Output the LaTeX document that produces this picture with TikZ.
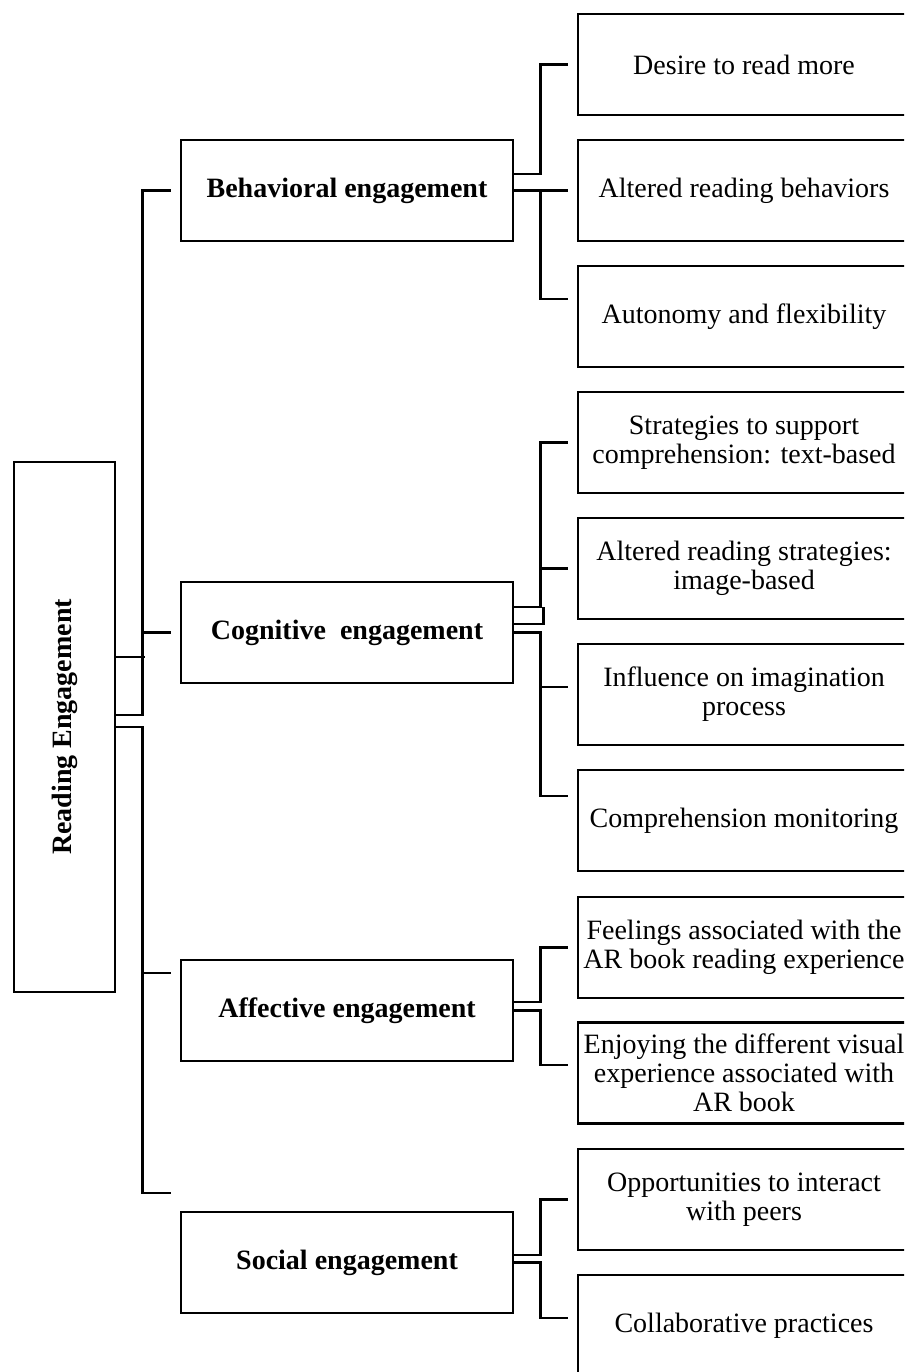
\documentclass[tikz,border=0pt]{standalone}
\usepackage{fontspec}
\setmainfont{Liberation Serif}
\usetikzlibrary{calc}

\tikzset{
	box/.style = {draw, line width=2.6pt, minimum width=332pt, minimum height=101pt,
		inner sep=0pt, align=center, font=\fontsize{28}{29}\selectfont},
	topic/.style = {box, font=\fontsize{28}{29}\selectfont\bfseries},
	bar/.style = {line width=2.6pt},
	link/.style = {bar, shorten >=9pt},
}

\begin{document}
\begin{tikzpicture}[x=1pt, y=-1pt]
	\useasboundingbox (0,0) rectangle (904,1372);
	\clip (0,0) rectangle (904,1372);

	% main box
	\node (read) [draw, line width=2.6pt, minimum width=101pt, minimum height=530pt, inner sep=0pt]
		at (64.5,727) {\rotatebox{90}{\fontsize{28}{29}\selectfont\bfseries Reading Engagement}};

	% the four kinds
	\node (beh) [topic] at (347,190.5) {Behavioral engagement};
	\node (cog) [topic] at (347,632.5) {Cognitive~ engagement};
	\node (aff) [topic] at (347,1010.5) {Affective engagement};
	\node (soc) [topic] at (347,1262.5) {Social engagement};

	% sub themes
	\node (b1) [box] at (744,64.5) {Desire to read more};
	\node (b2) [box] at (744,190.5) {Altered reading behaviors};
	\node (b3) [box] at (744,316.5) {Autonomy and flexibility};
	\node (c1) [box] at (744,442.5) {Strategies to support\\comprehension: text-based};
	\node (c2) [box] at (744,568.5) {Altered reading strategies:\\image-based};
	\node (c3) [box] at (744,694.5) {Influence on imagination\\process};
	\node (c4) [box] at (744,820.5) {Comprehension monitoring};
	\node (a1) [box] at (744,947.5) {Feelings associated with the\\AR book reading experience};
	\node (a2) [box] at (744,1073) {Enjoying the different visual\\experience associated with\\AR book};
	\node (s1) [box] at (744,1199.5) {Opportunities to interact\\with peers};
	\node (s2) [box] at (744,1325.5) {Collaborative practices};

	% left brackets
	\draw [bar] ($(read.east)+(0,-70)$) -- ++(29,0);
	\draw [link] ($(read.east)+(0,-12)$) -| ($(beh.west)+(-37,0)$) -- (beh.west);
	\draw [link] ($(cog.west)+(-37,0)$) -- (cog.west);
	\draw [link] (read.east) -| ($(soc.west)+(-37,-69.5)$) -- ($(soc.west)+(0,-69.5)$);
	\draw [link] ($(aff.west)+(-37,-37.5)$) -- ($(aff.west)+(0,-37.5)$);

	% behavioral
	\draw [link] ($(beh.east)+(0,-16.5)$) -| ($(b1.west)+(-36,0)$) -- (b1.west);
	\draw [link] (beh.east) -- (b2.west);
	\draw [link] ($(b2.west)+(-36,0)$) |- ($(b3.west)+(0,-17.5)$);

	% cognitive
	\draw [bar] ($(cog.east)+(0,-8.5)$) -| ($(cog.east)+(29,-25.5)$);
	\draw [link] ($(cog.east)+(0,-25.5)$) -| ($(c1.west)+(-36,0)$) -- (c1.west);
	\draw [link] ($(c2.west)+(-36,0)$) -- (c2.west);
	\draw [link] (cog.east) -| ($(c4.west)+(-36,-24.5)$) -- ($(c4.west)+(0,-24.5)$);
	\draw [link] ($(c3.west)+(-36,-7.5)$) -- ($(c3.west)+(0,-7.5)$);

	% affective
	\draw [link] ($(aff.east)+(0,-8.5)$) -| ($(a1.west)+(-36,0)$) -- (a1.west);
	\draw [link] (aff.east) -| ($(a2.west)+(-36,-8)$) -- ($(a2.west)+(0,-8)$);

	% social
	\draw [link] ($(soc.east)+(0,-7.5)$) -| ($(s1.west)+(-36,0)$) -- (s1.west);
	\draw [link] (soc.east) -| ($(s2.west)+(-36,-7.5)$) -- ($(s2.west)+(0,-7.5)$);
\end{tikzpicture}
\end{document}
